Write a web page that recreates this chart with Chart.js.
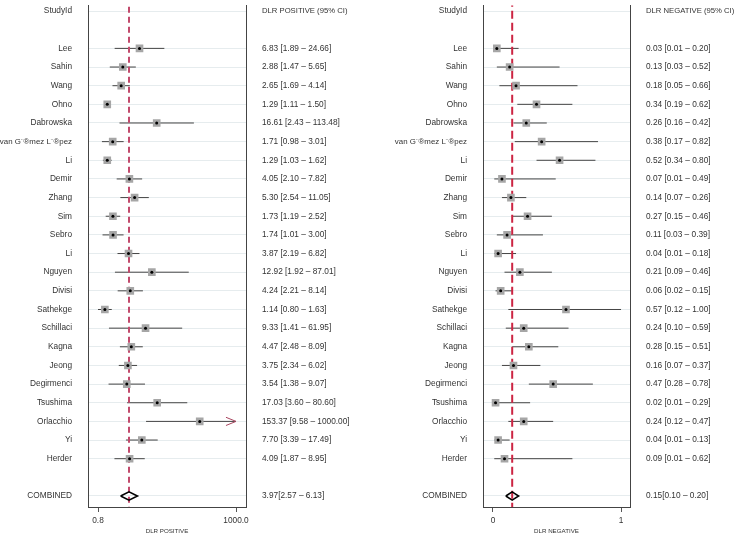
<!DOCTYPE html>
<html>
<head>
<meta charset="utf-8">
<script src="https://cdn.jsdelivr.net/npm/chart.js@4"></script>
<style>
  html, body { margin: 0; padding: 0; background: #fff; }
  #wrap { position: relative; width: 738px; height: 535px; }
  canvas { position: absolute; top: 0; }
</style>
</head>
<body>
<div id="wrap">
  <canvas id="cPos" width="369" height="535" style="left:0"></canvas>
  <canvas id="cNeg" width="369" height="535" style="left:369px"></canvas>
</div>
<script>
// ---------- DATA ----------
const studies = ['Lee', 'Sahin', 'Wang', 'Ohno', 'Dabrowska', 'van G\u00a8\u00aemez L\u00a8\u00aepez', 'Li', 'Demir',
  'Zhang', 'Sim', 'Sebro', 'Li', 'Nguyen', 'Divisi', 'Sathekge', 'Schillaci', 'Kagna', 'Jeong',
  'Degirmenci', 'Tsushima', 'Orlacchio', 'Yi', 'Herder'];

const posEst = [6.83, 2.88, 2.65, 1.29, 16.61, 1.71, 1.29, 4.05, 5.30, 1.73, 1.74, 3.87, 12.92, 4.24, 1.14, 9.33, 4.47, 3.75, 3.54, 17.03, 153.37, 7.70, 4.09];
const posLo  = [1.89, 1.47, 1.69, 1.11, 2.43, 0.98, 1.03, 2.10, 2.54, 1.19, 1.01, 2.19, 1.92, 2.21, 0.80, 1.41, 2.48, 2.34, 1.38, 3.60, 9.58, 3.39, 1.87];
const posHi  = [24.66, 5.65, 4.14, 1.50, 113.48, 3.01, 1.62, 7.82, 11.05, 2.52, 3.00, 6.82, 87.01, 8.14, 1.63, 61.95, 8.09, 6.02, 9.07, 80.60, 1000.00, 17.49, 8.95];
const posPooled = [3.97, 2.57, 6.13];

const negEst = [0.03, 0.13, 0.18, 0.34, 0.26, 0.38, 0.52, 0.07, 0.14, 0.27, 0.11, 0.04, 0.21, 0.06, 0.57, 0.24, 0.28, 0.16, 0.47, 0.02, 0.24, 0.04, 0.09];
const negLo  = [0.01, 0.03, 0.05, 0.19, 0.16, 0.17, 0.34, 0.01, 0.07, 0.15, 0.03, 0.01, 0.09, 0.02, 0.12, 0.10, 0.15, 0.07, 0.28, 0.01, 0.12, 0.01, 0.01];
const negHi  = [0.20, 0.52, 0.66, 0.62, 0.42, 0.82, 0.80, 0.49, 0.26, 0.46, 0.39, 0.18, 0.46, 0.15, 1.00, 0.59, 0.51, 0.37, 0.78, 0.29, 0.47, 0.13, 0.62];
const negPooled = [0.15, 0.10, 0.20];

const posTicks = [0.8, 1000];
const posTickLabels = ['0.8', '1000.0'];
const negTicks = [0, 1];
const negTickLabels = ['0', '1'];

// ---------- BUILD ----------
const FONT = '"Liberation Sans", Arial, sans-serif';
const FS = 8.3;
const rowLabels = ['StudyId', ''].concat(studies, ['', 'COMBINED']);
const NROWS = rowLabels.length;           // 27
const Y_MIN = -0.305, Y_MAX = 26.59;
const f2 = v => v.toFixed(2);

function buildPanel(id, o) {
  const ciLabels = [o.header, ''].concat(
    o.est.map((e, i) => f2(e) + ' [' + f2(o.lo[i]) + ' \u2013 ' + f2(o.hi[i]) + ']'),
    ['', f2(o.pooled[0]) + '[' + f2(o.pooled[1]) + ' \u2013 ' + f2(o.pooled[2]) + ']']);

  const datasets = [];
  // black centre dots
  datasets.push({
    data: o.est.map((e, i) => ({x: e, y: i + 2})),
    pointStyle: 'circle', pointRadius: 1.5, backgroundColor: '#000', borderWidth: 0, showLine: false, order: 0
  });
  // grey squares
  datasets.push({
    data: o.est.map((e, i) => ({x: e, y: i + 2})),
    pointStyle: 'rect', pointRadius: 5.4, backgroundColor: '#a6a6a6', borderWidth: 0, showLine: false, order: 1
  });
  // pooled estimate dashed line (runs past the axis range, clipped to the plot)
  datasets.push({
    data: [{x: o.pooled[0], y: Y_MIN - 1}, {x: o.pooled[0], y: Y_MAX}],
    showLine: true, borderColor: o.dashColor, borderWidth: 2, borderDash: o.dash, pointRadius: 0, order: 2
  });
  // confidence intervals
  o.est.forEach((e, i) => {
    datasets.push({
      data: [{x: o.lo[i], y: i + 2}, {x: o.hi[i], y: i + 2}],
      showLine: true, borderColor: '#444', borderWidth: 1, pointRadius: 0, order: 3
    });
    if (o.limit !== undefined && o.hi[i] >= o.limit) {
      const back = o.hi[i] / o.arrowBack;
      datasets.push({
        data: [{x: back, y: i + 2 - 0.22}, {x: o.hi[i], y: i + 2}, {x: back, y: i + 2 + 0.22}],
        showLine: true, borderColor: '#a8445e', borderWidth: 1, pointRadius: 0, order: 2
      });
    }
  });
  // combined diamond
  const cy = NROWS - 1, d = 0.22;
  datasets.push({
    data: [{x: o.pooled[1], y: cy}, {x: o.pooled[0], y: cy - d}, {x: o.pooled[2], y: cy},
           {x: o.pooled[0], y: cy + d}, {x: o.pooled[1], y: cy}],
    showLine: true, borderColor: '#000', borderWidth: 1.6, pointRadius: 0, fill: false, order: 1
  });

  const setRows = s => { s.ticks = rowLabels.map((_, i) => ({value: i})); };
  const noPad = s => { s.paddingTop = 0; s.paddingBottom = 0; s.paddingLeft = 0; s.paddingRight = 0; };

  return new Chart(document.getElementById(id), {
    type: 'scatter',
    data: { datasets },
    options: {
      responsive: false,
      animation: false,
      devicePixelRatio: 1,
      layout: { padding: 0 },
      plugins: { legend: { display: false }, tooltip: { enabled: false } },
      scales: {
        x: {
          type: o.xType, min: o.xMin, max: o.xMax, position: 'bottom', bounds: 'data',
          afterBuildTicks: s => { s.ticks = o.ticks.map(v => ({value: v})); },
          afterFit: s => { s.height = 28; noPad(s); },
          ticks: {
            autoSkip: false, maxRotation: 0, padding: 4, color: '#333',
            font: { family: FONT, size: FS },
            callback: (v) => o.tickLabels[o.ticks.indexOf(v)]
          },
          grid: { display: true, drawOnChartArea: false, drawTicks: true, tickLength: 5, color: '#555' },
          border: { display: true, color: '#444', width: 1 },
          title: { display: true, text: o.title, color: '#333', font: { family: FONT, size: 6.2 }, padding: 0 }
        },
        y: {
          type: 'linear', reverse: true, min: Y_MIN, max: Y_MAX, position: 'left', bounds: 'data', grace: 0,
          afterBuildTicks: setRows,
          afterFit: s => { s.width = o.leftW; noPad(s); },
          ticks: {
            autoSkip: false, padding: 16, color: '#333',
            font: c => ({ family: FONT, size: (rowLabels[c.index] || '').length > 12 ? 7.9 : FS }),
            callback: v => rowLabels[v]
          },
          grid: {
            drawTicks: false, lineWidth: 1,
            color: c => (c.tick && rowLabels[c.tick.value]) ? '#e6ecee' : 'rgba(0,0,0,0)'
          },
          border: { display: true, color: '#444', width: 1 }
        },
        y2: {
          type: 'linear', reverse: true, min: Y_MIN, max: Y_MAX, position: 'right', bounds: 'data', grace: 0,
          afterBuildTicks: setRows,
          afterFit: s => { s.width = o.rightW; noPad(s); },
          ticks: {
            autoSkip: false, padding: 16, color: '#333',
            font: c => ({ family: FONT, size: c.index === 0 ? 7.7 : FS }),
            callback: v => ciLabels[v]
          },
          grid: { drawTicks: false, color: 'rgba(0,0,0,0)' },
          border: { display: true, color: '#444', width: 1 }
        }
      }
    }
  });
}

buildPanel('cPos', {
  est: posEst, lo: posLo, hi: posHi, pooled: posPooled,
  header: 'DLR POSITIVE (95% CI)', title: 'DLR POSITIVE',
  xType: 'logarithmic', xMin: 0.477, xMax: 1676, ticks: posTicks, tickLabels: posTickLabels,
  dashColor: '#c24a6c', dash: [6, 4], limit: 1000, arrowBack: 1.68,
  leftW: 88, rightW: 123
});
buildPanel('cNeg', {
  est: negEst, lo: negLo, hi: negHi, pooled: negPooled,
  header: 'DLR NEGATIVE (95% CI)', title: 'DLR NEGATIVE',
  xType: 'linear', xMin: -0.078, xMax: 1.07, ticks: negTicks, tickLabels: negTickLabels,
  dashColor: '#cc2442', dash: [8, 4],
  leftW: 114, rightW: 108
});
</script>
</body>
</html>
